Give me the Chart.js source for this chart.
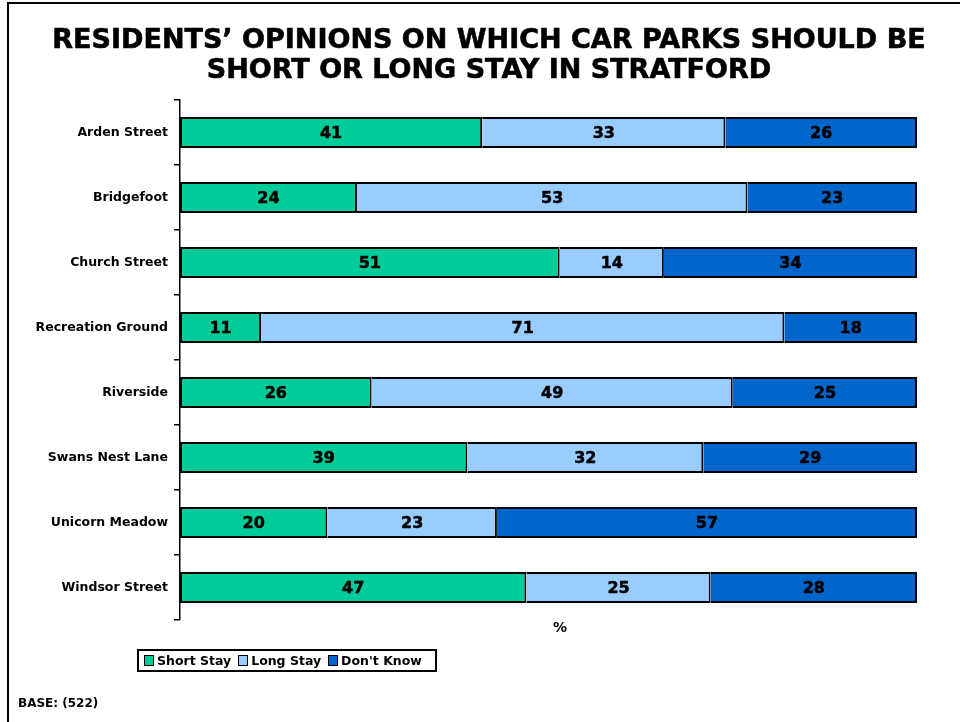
<!DOCTYPE html>
<html>
<head>
<meta charset="utf-8">
<script src="https://cdn.jsdelivr.net/npm/chart.js@4/dist/chart.umd.min.js"></script>
<style>
  body { margin: 0; background: #fff; font-family: "DejaVu Sans", Verdana, sans-serif; }
  #wrap { position: relative; width: 960px; height: 722px; overflow: hidden; }
  #frame { position: absolute; left: 7px; top: 2px; width: 2000px; height: 2000px;
           border-left: 2px solid #000; border-top: 2px solid #000; }
  #chartBox { position: absolute; left: 0; top: 0; width: 960px; height: 722px; }
  #title { position: absolute; left: 0; top: 24px; width: 978px; text-align: center;
           font-weight: bold; font-size: 27px; line-height: 30px; color: #000;
           -webkit-text-stroke: 0.6px #000; }
  #pct { position: absolute; left: 540px; top: 619px; width: 40px; text-align: center;
         font-weight: bold; font-size: 14px; }
  #legend { position: absolute; left: 137px; top: 649px; width: 296px; height: 19px;
            border: 2px solid #000; display: flex; align-items: center;
            font-weight: bold; font-size: 12.5px; color: #000; }
  #legend .sw { width: 8px; height: 9px; border: 1px solid #000; margin: 0 3px 0 5px; }
  #legend span.t { margin-right: 2px; }
  #base { position: absolute; left: 18px; top: 696px; font-weight: bold; font-size: 12px; }
</style>
</head>
<body>
<div id="wrap">
  <div id="frame"></div>
  <div id="chartBox"><canvas id="grafico"></canvas></div>
  <div id="title">RESIDENTS’ OPINIONS ON WHICH CAR PARKS SHOULD BE<br>SHORT OR LONG STAY IN STRATFORD</div>
  <div id="pct">%</div>
  <div id="legend"></div>
  <div id="base">BASE: (522)</div>
</div>
<script>
// datos
const carParks = ['Arden Street', 'Bridgefoot', 'Church Street', 'Recreation Ground',
                  'Riverside', 'Swans Nest Lane', 'Unicorn Meadow', 'Windsor Street'];
const shortStay = [41, 24, 51, 11, 26, 39, 20, 47];
const longStay  = [33, 53, 14, 71, 49, 32, 23, 25];
const dontKnow  = [26, 23, 34, 18, 25, 29, 57, 28];
const seriesNames = ['Short Stay', 'Long Stay', "Don't Know"];
const seriesColors = ['#00CC99', '#99CCFF', '#0066CC'];

// 100% apilado: cada fila se escala a su total
const totals = carParks.map((_, i) => shortStay[i] + longStay[i] + dontKnow[i]);
const share = arr => arr.map((v, i) => v / totals[i] * 100);
const rawSeries = [shortStay, longStay, dontKnow];

// etiquetas de valor centradas en cada tramo
const valueLabels = {
  id: 'valueLabels',
  afterDatasetsDraw(chart) {
    const ctx = chart.ctx;
    ctx.save();
    ctx.font = 'bold 16px "DejaVu Sans"';
    ctx.fillStyle = '#000';
    ctx.strokeStyle = '#000';
    ctx.lineWidth = 0.5;
    ctx.textAlign = 'center';
    ctx.textBaseline = 'middle';
    chart.data.datasets.forEach((ds, i) => {
      chart.getDatasetMeta(i).data.forEach((bar, j) => {
        const x = (bar.x + bar.base) / 2;
        ctx.fillText(rawSeries[i][j], x, bar.y + 1);
        ctx.strokeText(rawSeries[i][j], x, bar.y + 1);
      });
    });
    ctx.restore();
  }
};

new Chart(document.getElementById('grafico'), {
  type: 'bar',
  data: {
    labels: carParks,
    datasets: rawSeries.map((arr, i) => ({
      label: seriesNames[i],
      data: share(arr),
      backgroundColor: seriesColors[i],
      borderColor: '#000',
      borderWidth: 2,
      borderSkipped: i === 0 ? false : 'start',
      barPercentage: 0.48,
      categoryPercentage: 1
    }))
  },
  options: {
    indexAxis: 'y',
    responsive: true,
    maintainAspectRatio: false,
    animation: false,
    layout: { padding: { left: 0, right: 43, top: 100, bottom: 102 } },
    plugins: {
      legend: { display: false },
      tooltip: { enabled: false }
    },
    scales: {
      x: {
        stacked: true,
        display: false,
        min: 0,
        max: 100
      },
      y: {
        stacked: true,
        afterFit: s => { s.width = 180; },
        ticks: {
          color: '#000', padding: 6,
          font: { family: 'DejaVu Sans', size: 12.5, weight: 'bold' }
        },
        grid: { drawOnChartArea: false, drawTicks: true, tickLength: 6, color: '#000', lineWidth: 1.5 },
        border: { display: true, color: '#000', width: 1.5 }
      }
    }
  },
  plugins: [valueLabels]
});

// leyenda con marco, como en el original
const legendEl = document.getElementById('legend');
seriesNames.forEach((name, i) => {
  const sw = document.createElement('div');
  sw.className = 'sw';
  sw.style.background = seriesColors[i];
  const t = document.createElement('span');
  t.className = 't';
  t.textContent = name;
  legendEl.appendChild(sw);
  legendEl.appendChild(t);
});
</script>
</body>
</html>
